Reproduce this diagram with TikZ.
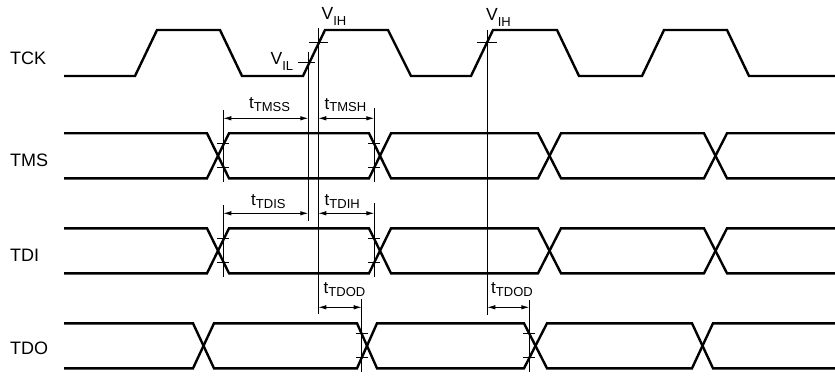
\documentclass[tikz,border=0pt]{standalone}
\usepackage{fontspec}
\setmainfont{Liberation Sans}
\usetikzlibrary{arrows.meta}
\newcommand\tlbl[1]{{\fontsize{17}{17}\selectfont t}\raisebox{-2.5pt}{\fontsize{13}{13}\selectfont #1}}
\newcommand\vlbl[1]{{\fontsize{17.5}{17.5}\selectfont V}\raisebox{-6pt}{\fontsize{13}{13}\selectfont #1}}
\begin{document}
\begin{tikzpicture}[x=1pt,y=-1pt,
  sig/.style={line width=2.4pt,line join=miter,line cap=butt},
  hair/.style={line width=0.9pt},
  dimarrow/.style={line width=0.9pt,{Latex[length=8pt,width=4.5pt]}-{Latex[length=8pt,width=4.5pt]}},
  signame/.style={anchor=west,inner sep=0pt,font=\fontsize{18}{18}\selectfont},
  lab/.style={anchor=base west,inner sep=0pt}]
\useasboundingbox (0,0) rectangle (835,377);
% signal names
\node[signame] (ntck) at (10,58.3) {TCK};
\node[signame] (ntms) at (10,160) {TMS};
\node[signame] (ntdi) at (10,255) {TDI};
\node[signame] (ntdo) at (10,348) {TDO};
% TCK
\draw[sig] (64,76) -- (135,76) -- (157,30) -- (220,30) -- (242,76) -- (303,76) -- (325,30) -- (388,30) -- (411,76) -- (471,76) -- (493,30) -- (557,30) -- (579,76) -- (642,76) -- (664,30) -- (727,30) -- (749,76) -- (835,76);
% TMS
\draw[sig] (64,133.3) -- (207,133.3) -- (229,178.3) -- (369,178.3) -- (391,133.3) -- (538,133.3) -- (561,178.3) -- (704,178.3) -- (727,133.3) -- (835,133.3);
\draw[sig] (64,178.3) -- (207,178.3) -- (229,133.3) -- (369,133.3) -- (391,178.3) -- (538,178.3) -- (561,133.3) -- (704,133.3) -- (727,178.3) -- (835,178.3);
% TDI
\draw[sig] (64,228.3) -- (207,228.3) -- (229,273.3) -- (369,273.3) -- (391,228.3) -- (538,228.3) -- (561,273.3) -- (704,273.3) -- (727,228.3) -- (835,228.3);
\draw[sig] (64,273.3) -- (207,273.3) -- (229,228.3) -- (369,228.3) -- (391,273.3) -- (538,273.3) -- (561,228.3) -- (704,228.3) -- (727,273.3) -- (835,273.3);
% TDO
\draw[sig] (64,323.3) -- (193,323.3) -- (214,368.3) -- (357,368.3) -- (377,323.3) -- (524,323.3) -- (547,368.3) -- (692,368.3) -- (713,323.3) -- (835,323.3);
\draw[sig] (64,368.3) -- (193,368.3) -- (214,323.3) -- (357,323.3) -- (377,368.3) -- (524,368.3) -- (547,323.3) -- (692,323.3) -- (713,368.3) -- (835,368.3);
% reference lines
\coordinate (vilT) at (308.3,51.7);  \coordinate (vilB) at (308.3,220.7);
\coordinate (vihT) at (318.3,28.3);  \coordinate (vihB) at (318.3,314);
\coordinate (vih2T) at (487.3,30);   \coordinate (vih2B) at (487.3,315);
\draw[hair] (vilT) -- (vilB);
\draw[hair] (vihT) -- (vihB);
\draw[hair] (vih2T) -- (vih2B);
\draw[hair] (298.3,62.3) -- (315,62.3);
\draw[hair] (309.3,42.7) -- (328.3,42.7);
\draw[hair] (477.3,42.7) -- (497.3,42.7);
% TMS markers
\coordinate (ms1T) at (223.3,110); \coordinate (ms1B) at (223.3,182);
\coordinate (ms2T) at (374.3,108); \coordinate (ms2B) at (374.3,182);
\draw[hair] (ms1T) -- (ms1B);
\draw[hair] (ms2T) -- (ms2B);
\foreach \x in {223.3,374.3}{
  \draw[hair] (\x-6,143.8) -- (\x+6,143.8);
  \draw[hair] (\x-6,167.8) -- (\x+6,167.8);}
% TDI markers
\coordinate (di1T) at (223.3,205); \coordinate (di1B) at (223.3,277);
\coordinate (di2T) at (374.3,203); \coordinate (di2B) at (374.3,277);
\draw[hair] (di1T) -- (di1B);
\draw[hair] (di2T) -- (di2B);
\foreach \x in {223.3,374.3}{
  \draw[hair] (\x-6,238.8) -- (\x+6,238.8);
  \draw[hair] (\x-6,262.8) -- (\x+6,262.8);}
% TDO markers
\coordinate (do1T) at (361.7,299); \coordinate (do1B) at (361.7,372);
\coordinate (do2T) at (529.3,300); \coordinate (do2B) at (529.3,372);
\draw[hair] (do1T) -- (do1B);
\draw[hair] (do2T) -- (do2B);
\foreach \x in {361.7,529.3}{
  \draw[hair] (\x-6,333.8) -- (\x+6,333.8);
  \draw[hair] (\x-6,357.8) -- (\x+6,357.8);}
% dimension arrows
\coordinate (a1) at (223.3,118.3); \coordinate (a2) at (308.3,118.3);
\coordinate (a3) at (318.3,118.3); \coordinate (a4) at (374.3,118.3);
\coordinate (b1) at (223.3,213.3); \coordinate (b2) at (308.3,213.3);
\coordinate (b3) at (318.3,213.3); \coordinate (b4) at (374.3,213.3);
\coordinate (c1) at (318.3,307.3); \coordinate (c2) at (361.7,307.3);
\coordinate (c3) at (487.3,307.3); \coordinate (c4) at (529.3,307.3);
\draw[dimarrow] (a1) -- (a2);
\draw[dimarrow] (a3) -- (a4);
\draw[dimarrow] (b1) -- (b2);
\draw[dimarrow] (b3) -- (b4);
\draw[dimarrow] (c1) -- (c2);
\draw[dimarrow] (c3) -- (c4);
% labels
\node[lab] (lvih) at (321.5,20) {\vlbl{IH}};
\node[lab] (lvil) at (270.5,64.5) {\vlbl{IL}};
\node[lab] (lvih2) at (486,20.5) {\vlbl{IH}};
\node[lab] (ltmss) at (249,108.8) {\tlbl{TMSS}};
\node[lab] (ltmsh) at (324.5,109.3) {\tlbl{TMSH}};
\node[lab] (ltdis) at (251,205.5) {\tlbl{TDIS}};
\node[lab] (ltdih) at (324.5,205.5) {\tlbl{TDIH}};
\node[lab] (ltdod) at (323.5,293.5) {\tlbl{TDOD}};
\node[lab] (ltdod2) at (491,293.5) {\tlbl{TDOD}};
\end{tikzpicture}
\end{document}
